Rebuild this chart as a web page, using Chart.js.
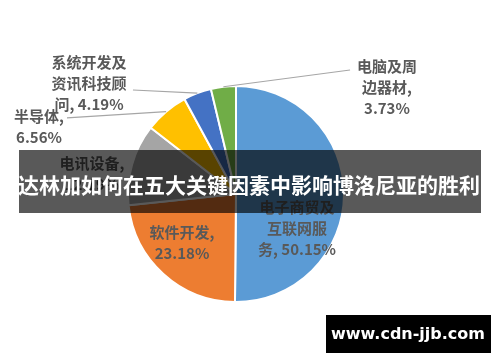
<!DOCTYPE html>
<html>
<head>
<meta charset="utf-8">
<script src="https://cdn.jsdelivr.net/npm/chart.js@4/dist/chart.umd.min.js"></script>
<style>
  html, body { margin: 0; padding: 0; background: #fff; }
  #wrap { position: relative; width: 500px; height: 362px; }
</style>
</head>
<body>
<div id="wrap"><canvas id="c" width="500" height="362"></canvas></div>
<script>
// Industry shares (%), clockwise from 12 o'clock
const categories = ['电子商贸及互联网服务', '软件开发', '电讯设备', '半导体', '系统开发及资讯科技顾问', '电脑及周边器材'];
const shares = [50.15, 23.18, 12.19, 6.56, 4.19, 3.73];
const sliceColors = ['#5B9BD5', '#ED7D31', '#A5A5A5', '#FFC000', '#4472C4', '#70AD47'];

const titleText = '达林加如何在五大关键因素中影响博洛尼亚的胜利';
const siteText = 'www.cdn-jjb.com';

// Label layout per slice: line breaks (chars per line), text centre and optional
// leader-line end, both in units of the pie radius relative to the pie centre.
const labelLayout = [
  { breaks: [5, 4], at: [0.565, 0.315] },
  { breaks: [5], at: [-0.50, 0.454] },
  { breaks: [5], at: [-1.333, -0.19] },
  { breaks: [4], at: [-1.824, -0.625], leader: [-1.565, -0.704] },
  { breaks: [5, 5], at: [-1.361, -1.028], leader: [-0.954, -0.963] },
  { breaks: [4, 4], at: [1.398, -0.991], leader: [1.056, -1.148] }
];

function splitLines(text, breaks) {
  const out = [];
  let pos = 0;
  for (const n of breaks) { out.push(text.slice(pos, pos + n).trim()); pos += n; }
  out.push(text.slice(pos).trim());
  return out;
}

const sliceLabels = {
  id: 'sliceLabels',
  afterDatasetsDraw(chart) {
    const ctx = chart.ctx;
    const meta = chart.getDatasetMeta(0);
    const ds = chart.data.datasets[0];
    ctx.save();
    meta.data.forEach((arc, i) => {
      const { x, y, outerRadius, startAngle, endAngle } = arc.getProps(['x', 'y', 'outerRadius', 'startAngle', 'endAngle'], true);
      const lay = labelLayout[i];
      const mid = (startAngle + endAngle) / 2;
      if (lay.leader) {
        ctx.strokeStyle = '#A6A6A6';
        ctx.lineWidth = 1.2;
        ctx.beginPath();
        ctx.moveTo(x + Math.cos(mid) * outerRadius, y + Math.sin(mid) * outerRadius);
        ctx.lineTo(x + lay.leader[0] * outerRadius, y + lay.leader[1] * outerRadius);
        ctx.stroke();
      }
      const text = chart.data.labels[i] + ', ' + ds.data[i].toFixed(2) + '%';
      const lines = splitLines(text, lay.breaks);
      const cx = x + lay.at[0] * outerRadius;
      const cy = y + lay.at[1] * outerRadius;
      ctx.fillStyle = '#595959';
      ctx.font = 'bold 15px "Noto Sans CJK SC", "Noto Sans", sans-serif';
      ctx.textAlign = 'center';
      ctx.textBaseline = 'middle';
      const lh = 21;
      lines.forEach((ln, k) => {
        ctx.fillText(ln, cx, cy + (k - (lines.length - 1) / 2) * lh);
      });
    });
    ctx.restore();
  }
};

const overlays = {
  id: 'overlays',
  afterDraw(chart) {
    const ctx = chart.ctx;
    ctx.save();
    // title banner
    ctx.fillStyle = 'rgba(0,0,0,0.65)';
    ctx.fillRect(19, 150, 462, 63);
    ctx.fillStyle = '#ffffff';
    ctx.font = 'bold 21px "Noto Sans CJK SC", sans-serif';
    ctx.textAlign = 'center';
    ctx.textBaseline = 'middle';
    ctx.fillText(titleText, 249, 185);
    // site badge
    ctx.fillStyle = '#000000';
    ctx.fillRect(326, 315, 165, 38);
    ctx.fillStyle = '#ffffff';
    ctx.font = 'bold 16px "DejaVu Sans", sans-serif';
    ctx.fillText(siteText, 408, 335);
    ctx.restore();
  }
};

new Chart(document.getElementById('c'), {
  type: 'pie',
  data: {
    labels: categories,
    datasets: [{
      data: shares,
      backgroundColor: sliceColors,
      borderColor: '#ffffff',
      borderWidth: 2
    }]
  },
  options: {
    responsive: false,
    animation: false,
    layout: { padding: { left: 127, right: 155, top: 85, bottom: 59 } },
    plugins: {
      legend: { display: false },
      tooltip: { enabled: false },
      title: { display: false }
    }
  },
  plugins: [sliceLabels, overlays]
});
</script>
</body>
</html>
